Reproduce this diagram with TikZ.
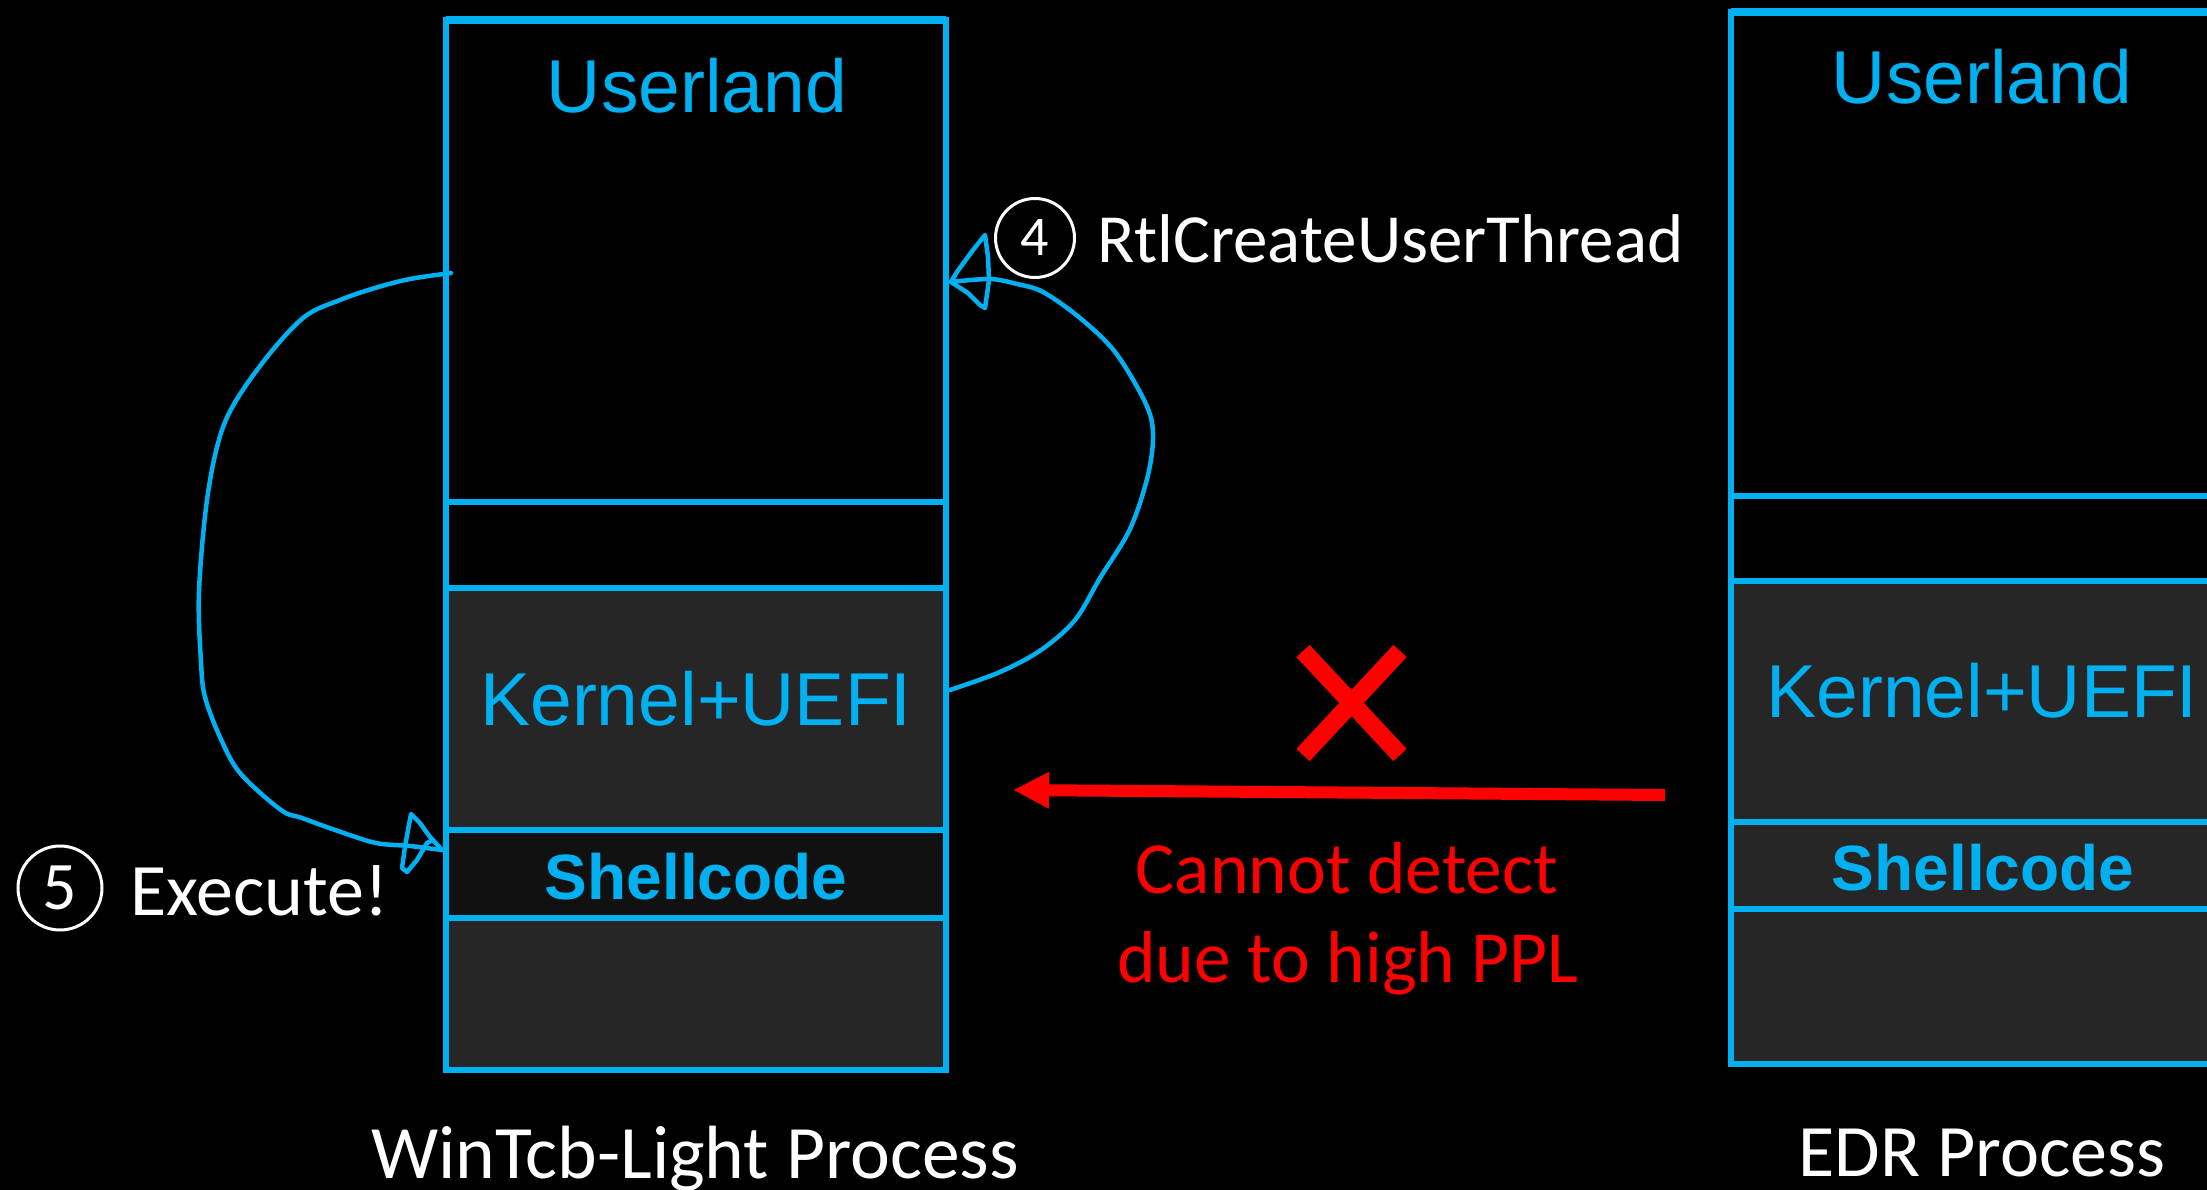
\documentclass[tikz,border=0pt]{standalone}
\usepackage{fontspec}
\setmainfont{Carlito}
\newfontfamily\arialf{Liberation Sans}
\newfontfamily\calf{Carlito}
\usetikzlibrary{arrows.meta}
\definecolor{sky}{HTML}{00B0F0}
\definecolor{panel}{HTML}{262626}
\definecolor{panedark}{HTML}{111111}
\definecolor{alertred}{HTML}{FF0000}
\tikzset{
  memline/.style={draw=sky, line width=5.5pt},
  memtop/.style={draw=sky, line width=7.5pt},
  bluelbl/.style={text=sky, anchor=base, inner sep=0pt, font=\arialf\fontsize{75}{80}\selectfont},
  bluebold/.style={text=sky, anchor=base, inner sep=0pt, font=\arialf\bfseries\fontsize{64}{70}\selectfont},
  whitelbl/.style={text=white, inner sep=0pt, font=\calf\fontsize{74}{80}\selectfont},
  redlbl/.style={text=alertred, anchor=base, inner sep=0pt, font=\calf\fontsize{73.5}{80}\selectfont},
  stepcircle/.style={circle, draw=white, line width=3pt, inner sep=0pt, text=white},
  handcurve/.style={draw=sky, line width=4.5pt, line cap=round, line join=round},
}
\begin{document}
\begin{tikzpicture}[x=1pt,y=-1pt]
% canvas
\fill[black] (0,0) rectangle (2207,1190);
\useasboundingbox (0,0) rectangle (2207,1190);
\clip (0,0) rectangle (2207,1190);

% ---- WinTcb-Light process memory ----
\fill[panel] (446,588) rectangle (946,1070);
\fill[panedark] (446,830) rectangle (946,918);
\draw[memline] (446,20) rectangle (946,1070);
\draw[memtop] (446,20) -- (946,20);
\draw[memline] (446,502) -- (946,502);
\draw[memline] (446,588) -- (946,588);
\draw[memline] (446,830) -- (946,830);
\draw[memline] (446,918) -- (946,918);
\node[bluelbl] (uland1) at (697,113) {Userland};
\node[bluelbl] (kern1) at (696,725) {Kernel+UEFI};
\node[bluebold] (shell1) at (696,899) {Shellcode};
\node[whitelbl, anchor=base, font=\calf\fontsize{75.5}{80}\selectfont] (proc1) at (695,1178) {WinTcb-Light Process};

% ---- EDR process memory ----
\fill[panel] (1731,581) rectangle (2231,1064);
\draw[memline] (1731,12) rectangle (2231,1064);
\draw[memtop] (1731,12) -- (2231,12);
\draw[memline] (1731,496) -- (2231,496);
\draw[memline] (1731,581) -- (2231,581);
\draw[memline] (1731,822) -- (2231,822);
\draw[memline] (1731,909) -- (2231,909);
\node[bluelbl] (uland2) at (1982,104) {Userland};
\node[bluelbl] (kern2) at (1982,717) {Kernel+UEFI};
\node[bluebold] (shell2) at (1983,890) {Shellcode};
\node[whitelbl, anchor=base] (proc2) at (1982,1176) {EDR Process};

% ---- step 4: thread creation ----
\coordinate (s4from) at (950,690);
\coordinate (s4to) at (951,282);
\draw[handcurve] plot[smooth, tension=0.55] coordinates {
  (s4from) (1000,672) (1041,650) (1075,620) (1100,578) (1130,529)
  (1148,475) (1153,433) (1145,402) (1115,352) (1080,318) (1043,292)
  (1017,284) (990,279) (s4to)};
\draw[handcurve] (s4to) -- (957,272) -- (962,265) -- (973,250) -- (985,235)
  -- (988,257) -- (989,280) -- (985,308) -- (980,305) -- (972,297)
  -- (968,293) -- cycle;
\node[stepcircle, minimum size=79pt, font=\calf\fontsize{56}{60}\selectfont] (c4) at (1035,238) {4};
\node[whitelbl, anchor=base west, font=\calf\fontsize{69}{75}\selectfont] (rtl) at (1097,262) {RtlCreateUserThread};

% ---- step 5: execution ----
\coordinate (s5from) at (451,273);
\coordinate (s5to) at (442,850);
\draw[handcurve] plot[smooth, tension=0.55] coordinates {
  (s5from) (410,279) (375,288) (340,300) (303,318) (260,366) (225,422)
  (208,493) (199,591) (201,662) (205,697) (220,737) (240,773) (281,810)
  (302,818) (338,831) (376,843) (410,846) (s5to)};
\draw[handcurve] (s5to) -- (430,837) -- (420,823) -- (411,814) -- (408,830)
  -- (405,847) -- (402,868) -- (407,872) -- (417,860) -- (427,843)
  -- (433,840) -- cycle;
\node[stepcircle, minimum size=84pt, font=\calf\fontsize{68}{72}\selectfont] (c5) at (60,888) {5};
\node[whitelbl, anchor=base west, font=\calf\fontsize{74}{78}\selectfont] (exec) at (130,915) {Execute!};

% ---- blocked detection ----
\coordinate (edrsrc) at (1665,795);
\coordinate (tcbdst) at (1013,790);
\draw[alertred, line width=12pt, -{Triangle[length=36pt,width=34pt]}] (edrsrc) -- (tcbdst);
\draw[alertred, line width=18pt] (1303,651) -- (1400,755);
\draw[alertred, line width=18pt] (1400,651) -- (1303,755);
\node[redlbl] (why1) at (1347,893) {Cannot detect};
\node[redlbl] (why2) at (1348,982) {due to high PPL};
\end{tikzpicture}
\end{document}
